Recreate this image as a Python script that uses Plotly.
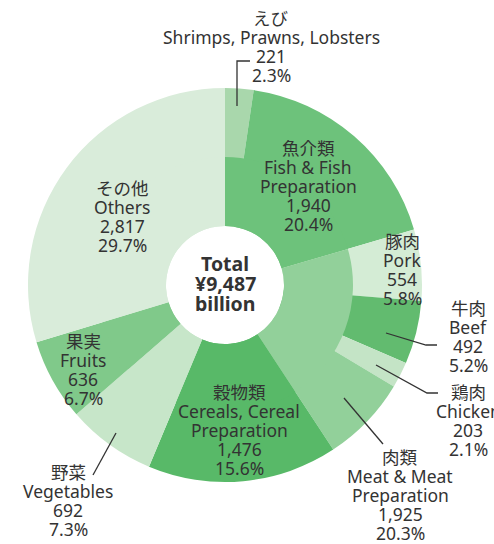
import plotly.graph_objects as go

# ---------------- data ----------------
categories_jp = ["魚介類", "肉類", "穀物類", "野菜", "果実", "その他"]
categories_en = ["Fish & Fish<br>Preparation", "Meat & Meat<br>Preparation",
                 "Cereals, Cereal<br>Preparation", "Vegetables", "Fruits", "Others"]
category_values = [1940, 1925, 1476, 692, 636, 2817]
category_pct = ["20.4%", "20.3%", "15.6%", "7.3%", "6.7%", "29.7%"]

shrimp_value = 221
shrimp_pct = "2.3%"
meat_sub_jp = ["豚肉", "牛肉", "鶏肉"]
meat_sub_en = ["Pork", "Beef", "Chicken"]
meat_sub_values = [554, 492, 203]
meat_sub_pct = ["5.8%", "5.2%", "2.1%"]
total_label = "¥9,487"

# ---------------- styling ----------------
W, H = 494, 544
CX, CY = 225, 285          # pie centre in pixels (from top-left)
R_OUT, R_MID, R_HOLE = 197, 128, 59

col = {
    "shrimp": "#a9d7ac", "fish": "#6dc27b", "pork": "#d4ecd5", "beef": "#62bb6f",
    "chicken": "#c4e4c6", "meat": "#92d09a", "cereals": "#58b968",
    "veg": "#c7e6c9", "fruits": "#80c98a", "others": "#d9ecda",
}
TEXT = "#333333"
FONT = "Noto Sans, Noto Sans CJK JP, sans-serif"


def dom(r):
    return dict(x=[(CX - r) / W, (CX + r) / W],
                y=[(H - CY - r) / H, (H - CY + r) / H])


meat_rest = category_values[1] - sum(meat_sub_values)
fish_rest = category_values[0] - shrimp_value

outer_vals = [shrimp_value, fish_rest] + meat_sub_values + [meat_rest] + category_values[2:]
outer_cols = [col["shrimp"], col["fish"], col["pork"], col["beef"], col["chicken"],
              col["meat"], col["cereals"], col["veg"], col["fruits"], col["others"]]
inner_cols = [col["fish"], col["meat"], col["cereals"], col["veg"], col["fruits"], col["others"]]

fig = go.Figure()
fig.add_trace(go.Pie(values=outer_vals, sort=False, direction="clockwise", rotation=0,
                     hole=R_HOLE / R_OUT, domain=dom(R_OUT), textinfo="none",
                     hoverinfo="skip", showlegend=False,
                     marker=dict(colors=outer_cols, line=dict(width=0))))
fig.add_trace(go.Pie(values=category_values, sort=False, direction="clockwise", rotation=0,
                     hole=R_HOLE / R_MID, domain=dom(R_MID), textinfo="none",
                     hoverinfo="skip", showlegend=False,
                     marker=dict(colors=inner_cols, line=dict(width=0))))

annotations = []


def px(x, y):
    return x / W, 1 - y / H


def block(lines, cx, y0, step=19, size=17.5, bold=False):
    for i, t in enumerate(lines):
        x, y = px(cx, y0 + i * step)
        annotations.append(dict(x=x, y=y, xref="paper", yref="paper", showarrow=False,
                                text=f"<b>{t}</b>" if bold else t,
                                xanchor="center", yanchor="middle",
                                font=dict(family=FONT, size=size, color=TEXT)))


def fmt(v):
    return f"{v:,}"


# category labels: (cx, first-line y)
cat_pos = [(308, 148), (400, 457), (239, 392), (68, 472), (83, 341), (122, 188)]
for i in range(len(categories_jp)):
    en = categories_en[i].split("<br>")
    block([categories_jp[i]] + en + [fmt(category_values[i]), category_pct[i]],
          cat_pos[i][0], cat_pos[i][1])

block(["えび", "Shrimps, Prawns, Lobsters", fmt(shrimp_value), shrimp_pct], 271, 18)

sub_pos = [(402, 241), (468, 308), (468, 392)]
for i in range(3):
    block([meat_sub_jp[i], meat_sub_en[i], fmt(meat_sub_values[i]), meat_sub_pct[i]],
          sub_pos[i][0], sub_pos[i][1])

block(["Total", total_label, "billion"], CX, 263, step=20, size=19.5, bold=True)

# leader lines
leaders = [
    [(237, 106), (237, 61), (250, 61)],
    [(386, 333), (426, 345), (437, 345)],
    [(376, 365), (427, 393), (438, 393)],
    [(344, 398), (383, 444)],
    [(116, 433), (93, 475)],
]
shapes = []
for pts in leaders:
    path = "M " + " L ".join(f"{px(x, y)[0]:.5f},{px(x, y)[1]:.5f}" for x, y in pts)
    shapes.append(dict(type="path", path=path, xref="paper", yref="paper",
                       line=dict(color=TEXT, width=1.3)))

fig.update_layout(width=W, height=H, margin=dict(l=0, r=0, t=0, b=0),
                  paper_bgcolor="white", plot_bgcolor="white",
                  annotations=annotations, shapes=shapes, showlegend=False)

fig.write_html("out.html", config={"displayModeBar": False},
               post_script="document.body.style.margin='0';document.body.style.overflow='hidden';")
